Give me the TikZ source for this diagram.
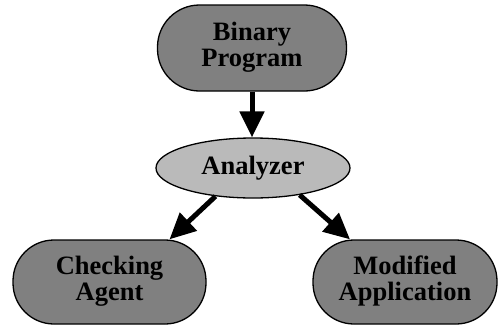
\documentclass[tikz,border=0pt]{standalone}
\usepackage{fontspec}
\setmainfont{Liberation Serif}
\usetikzlibrary{shapes.geometric,arrows.meta}
\definecolor{boxgray}{RGB}{128,128,128}
\definecolor{ovalgray}{RGB}{186,186,186}
% two centred lines, lowered slightly inside the box
\newcommand\twolines[2]{\raisebox{-2.5pt}{\begin{tabular}{@{}c@{}}#1\\#2\end{tabular}}}
\tikzset{
  stadium/.style={draw=black, line width=1.3pt, fill=boxgray, rectangle,
    rounded corners=41pt, minimum height=84pt, inner sep=0pt,
    font=\bfseries\fontsize{26.5}{26.5}\selectfont},
  oval/.style={draw=black, line width=1.3pt, fill=ovalgray, ellipse,
    minimum width=194pt, minimum height=60pt, inner sep=0pt, align=center,
    font=\bfseries\fontsize{26.5}{26}\selectfont},
  flow/.style={line width=5pt, -{Triangle[length=26pt,width=24pt]}}
}
\begin{document}
\begin{tikzpicture}[x=1pt,y=-1pt]
\useasboundingbox (0,0) rectangle (499,325);
\node[stadium, minimum width=189pt, minimum height=86pt, rounded corners=42pt] (bp) at (252,48) {\twolines{Binary}{Program}};
\node[oval] (ana) at (253,168) {Analyzer};
\node[stadium, minimum width=193pt] (chk) at (109.5,282) {\twolines{Checking}{Agent}};
\node[stadium, minimum width=184pt] (mod) at (405,282) {\twolines{Modified}{Application}};
\draw[flow] (bp.south) -- (bp.south |- ana.north);
\draw[flow] (ana.217) -- ([xshift=60pt]chk.north);
\draw[flow] (ana.330) -- ([xshift=-55pt]mod.north);
\end{tikzpicture}
\end{document}
